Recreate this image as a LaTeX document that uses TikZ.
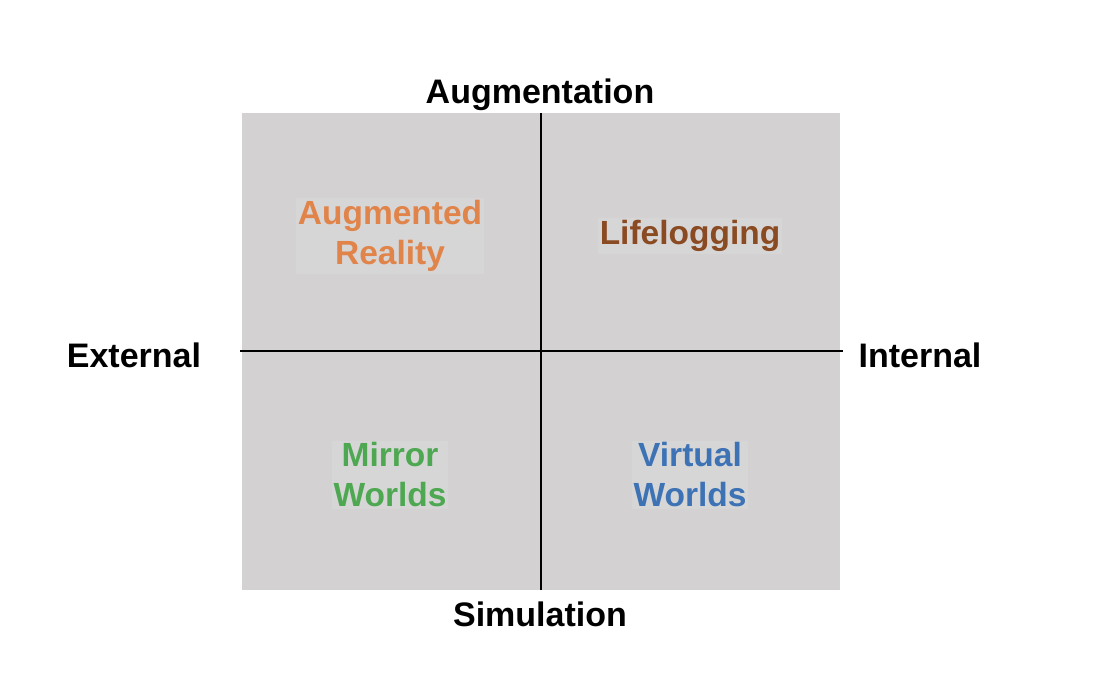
\documentclass[tikz,border=0pt]{standalone}
\usepackage{fontspec}
\setmainfont{Liberation Sans}
\definecolor{bggray}{HTML}{D3D1D2}
\definecolor{hlgray}{HTML}{D7D6D7}
\definecolor{arorange}{HTML}{E0844A}
\definecolor{llbrown}{HTML}{8A4A22}
\definecolor{mwgreen}{HTML}{4EA852}
\definecolor{vwblue}{HTML}{3D72B5}
\begin{document}
\begin{tikzpicture}[x=1pt,y=-1pt,
  axislabel/.style={font=\fontsize{34}{40}\selectfont\bfseries, text=black, inner sep=0pt},
  quad/.style={font=\fontsize{33.5}{40}\selectfont\bfseries, align=center, fill=hlgray, inner sep=2pt},
  axisline/.style={line width=2.8pt, black}]
\useasboundingbox (0,0) rectangle (1110,678);
\fill[bggray] (242,113) rectangle (840,590);
\coordinate (top) at (541,113);
\coordinate (bot) at (541,590);
\coordinate (lft) at (240,351);
\coordinate (rgt) at (843,351);
\draw[axisline] (top) -- (bot);
\draw[axisline] (lft) -- (rgt);
\node[axislabel] (aug) at (540,95) {Augmentation};
\node[axislabel] (sim) at (540,614) {Simulation};
\node[axislabel] (ext) at (134,355) {External};
\node[axislabel] (int) at (920,355) {Internal};
\node[quad, text=arorange] (ar) at (390,236) {Augmented\\Reality};
\node[quad, text=llbrown] (ll) at (690,236) {Lifelogging};
\node[quad, text=mwgreen] (mw) at (390,475) {Mirror\\Worlds};
\node[quad, text=vwblue] (vw) at (690,475) {Virtual\\Worlds};
\end{tikzpicture}
\end{document}
